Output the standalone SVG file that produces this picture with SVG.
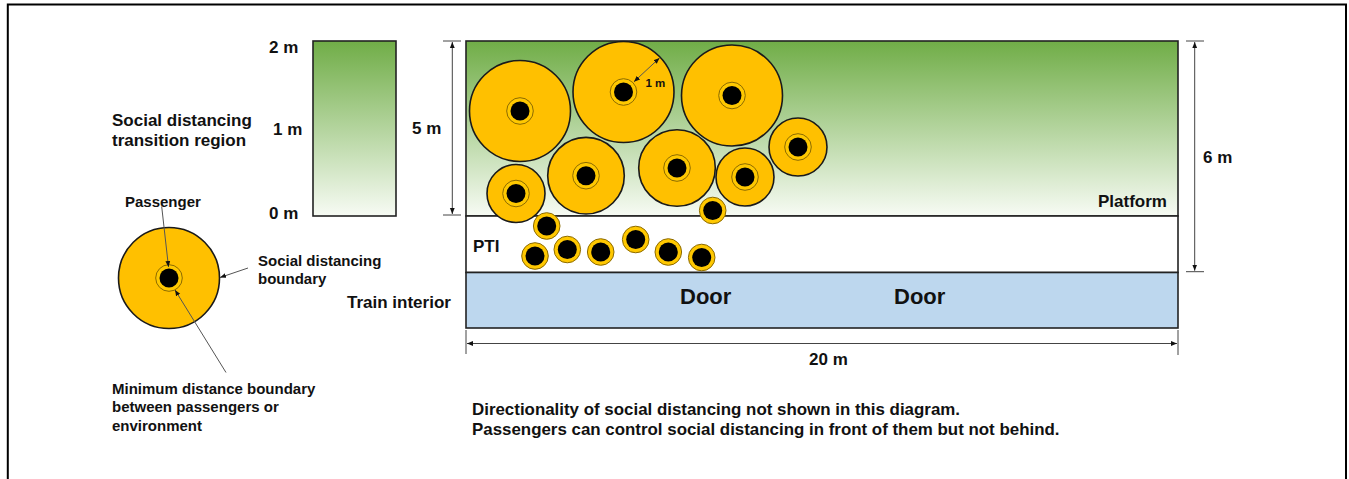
<svg xmlns="http://www.w3.org/2000/svg" width="1349" height="479" viewBox="0 0 1349 479">
  <style>
    text { font-family: "Liberation Sans", Arial, sans-serif; font-weight: bold; fill: #111; }
    .t17 { font-size: 17px; }
    .t15 { font-size: 15px; }
    .door { font-size: 22px; }
    .note { font-size: 16.9px; }
    .zone { stroke: #222; stroke-width: 1.6; }
    .sd { fill: #FFC000; stroke: #1a1a1a; stroke-width: 1.6; }
    .ring { fill: #FFC800; stroke: #8C6A00; stroke-width: 1; }
    .core { fill: #000; }
    .dim { stroke: #444; stroke-width: 1; fill: none; }
    .lead { stroke: #555; stroke-width: 1; fill: none; }
  </style>
  <defs>
    <linearGradient id="fade" x1="0" y1="0" x2="0" y2="1">
      <stop offset="0" stop-color="#70AD47"/>
      <stop offset="1" stop-color="#F7FBF4"/>
    </linearGradient>
    <marker id="ah" viewBox="0 0 10 10" refX="10" refY="5" markerWidth="6" markerHeight="6" markerUnits="userSpaceOnUse" orient="auto-start-reverse">
      <path d="M0,1 L10,5 L0,9 z" fill="#111"/>
    </marker>
    <!-- passenger: minimum distance ring with body -->
    <g id="pax">
      <circle class="ring" r="13.3"/>
      <circle class="core" r="9.5"/>
    </g>
  </defs>

  <!-- outer frame (open at the bottom) -->
  <path d="M7.8,479 V4.5 H1346 V479" fill="none" stroke="#000" stroke-width="2"/>

  <!-- transition region scale -->
  <g id="transition-scale">
    <rect x="313" y="41" width="83" height="175" fill="url(#fade)" class="zone"/>
    <text class="t17" x="269" y="53">2 m</text>
    <text class="t17" x="273" y="135">1 m</text>
    <text class="t17" x="269" y="219">0 m</text>
    <text class="t17" x="112" y="126">Social distancing</text>
    <text class="t17" x="112" y="146">transition region</text>
  </g>

  <!-- legend passenger -->
  <g id="legend">
    <circle class="sd" cx="169" cy="278" r="50.5"/>
    <use href="#pax" x="169" y="278"/>
    <text class="t15" x="125" y="207">Passenger</text>
    <text class="t15" x="258" y="265.5">Social distancing</text>
    <text class="t15" x="258" y="283.5">boundary</text>
    <text class="t15" x="112" y="393.5">Minimum distance boundary</text>
    <text class="t15" x="112" y="412">between passengers or</text>
    <text class="t15" x="112" y="430.5">environment</text>
  </g>

  <!-- platform -->
  <g id="platform">
    <rect x="466" y="41" width="712" height="175" fill="url(#fade)" class="zone"/>
    <text class="t17" x="1098" y="207">Platform</text>
  </g>

  <!-- platform-train interface -->
  <g id="pti">
    <rect x="466" y="216" width="712" height="56.5" fill="#fff" class="zone"/>
    <text class="t17" x="473" y="252">PTI</text>
  </g>

  <!-- train interior -->
  <g id="train-interior">
    <rect x="466" y="272.5" width="712" height="55.5" fill="#BDD7EE" class="zone"/>
    <text class="door" x="680" y="304">Door</text>
    <text class="door" x="894" y="304">Door</text>
    <text class="t17" x="347" y="307.5">Train interior</text>
  </g>

  <!-- passengers on the platform with social distancing boundaries -->
  <g id="platform-passengers">
    <circle class="sd" cx="520" cy="111" r="50.5"/>
    <circle class="sd" cx="623.5" cy="92" r="50.5"/>
    <circle class="sd" cx="732" cy="95.5" r="50.5"/>
    <circle class="sd" cx="586" cy="175.7" r="38.3"/>
    <circle class="sd" cx="677" cy="168" r="38.3"/>
    <circle class="sd" cx="516" cy="193.5" r="29"/>
    <circle class="sd" cx="745" cy="177" r="29"/>
    <circle class="sd" cx="798" cy="147" r="29"/>
    <use href="#pax" x="520" y="111"/>
    <use href="#pax" x="623.5" y="92"/>
    <use href="#pax" x="732" y="95.5"/>
    <use href="#pax" x="586" y="175.7"/>
    <use href="#pax" x="677" y="168"/>
    <use href="#pax" x="516" y="193.5"/>
    <use href="#pax" x="745" y="177"/>
    <use href="#pax" x="798" y="147"/>
    <text x="645.5" y="87" font-size="11.5px">1 m</text>
  </g>

  <!-- passengers in the PTI -->
  <g id="pti-passengers">
    <use href="#pax" x="712.7" y="210.5"/>
    <use href="#pax" x="546.7" y="226"/>
    <use href="#pax" x="535" y="256"/>
    <use href="#pax" x="567.3" y="249.5"/>
    <use href="#pax" x="600.7" y="252"/>
    <use href="#pax" x="635.7" y="239.5"/>
    <use href="#pax" x="668.3" y="252"/>
    <use href="#pax" x="701.7" y="257.5"/>
  </g>

  <!-- dimension labels and note -->
  <g id="dimensions">
    <text class="t17" x="412" y="134">5 m</text>
    <text class="t17" x="1203" y="163">6 m</text>
    <text class="t17" x="809" y="365">20 m</text>
    <text class="note" x="472" y="415">Directionality of social distancing not shown in this diagram.</text>
    <text class="note" x="472" y="434.5">Passengers can control social distancing in front of them but not behind.</text>
  </g>

  <!-- connectors: leader lines and dimension lines -->
  <g id="connectors">
    <line class="lead" x1="161.7" y1="206.5" x2="168.5" y2="267" marker-end="url(#ah)"/>
    <line class="lead" x1="248" y1="268" x2="220" y2="277.5" marker-end="url(#ah)"/>
    <line class="lead" x1="226" y1="372.5" x2="175" y2="290" marker-end="url(#ah)"/>
    <line class="lead" x1="634" y1="81.7" x2="659.5" y2="58" marker-start="url(#ah)" marker-end="url(#ah)" stroke="#333"/>

    <line class="dim" x1="443" y1="41" x2="461" y2="41"/>
    <line class="dim" x1="443" y1="215" x2="461" y2="215"/>
    <line class="dim" x1="452.3" y1="42" x2="452.3" y2="214" marker-start="url(#ah)" marker-end="url(#ah)"/>

    <line class="dim" x1="1186" y1="41" x2="1204" y2="41"/>
    <line class="dim" x1="1186" y1="271.7" x2="1204" y2="271.7"/>
    <line class="dim" x1="1194.7" y1="42" x2="1194.7" y2="270.7" marker-start="url(#ah)" marker-end="url(#ah)"/>

    <line class="dim" x1="466" y1="330" x2="466" y2="354"/>
    <line class="dim" x1="1178" y1="330" x2="1178" y2="355"/>
    <line class="dim" x1="467" y1="343.5" x2="1177" y2="343.5" marker-start="url(#ah)" marker-end="url(#ah)"/>
  </g>
</svg>
